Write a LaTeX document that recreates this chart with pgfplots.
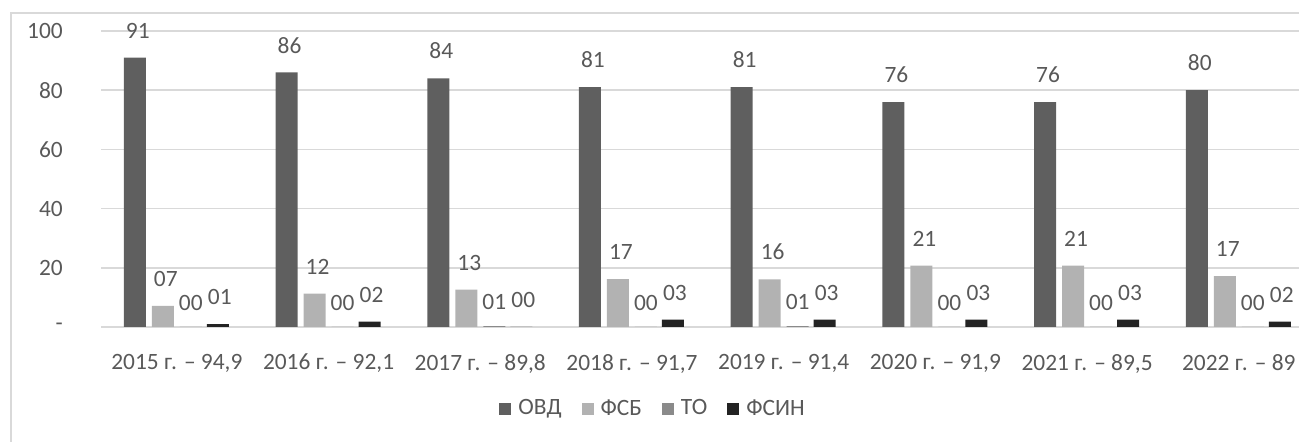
\documentclass[border=0pt]{standalone}
\usepackage{pgfplots}
\pgfplotsset{compat=1.18}
\usepackage{fontspec}
\setmainfont{Carlito}
\definecolor{txt}{HTML}{595959}
\definecolor{grd}{HTML}{D9D9D9}
\definecolor{cA}{HTML}{5F5F5F}
\definecolor{cB}{HTML}{B2B2B2}
\definecolor{cC}{HTML}{8A8A8A}
\definecolor{cD}{HTML}{232323}
\begin{document}
\begin{tikzpicture}
\fontsize{11.7}{14}\selectfont
\useasboundingbox (0,0) rectangle (649.5pt,221pt);
\draw[grd, line width=0.8pt] (5.5pt,-5pt) -- (5.5pt,214.5pt) -- (660pt,214.5pt);
\begin{axis}[
  at={(50.5pt,57.5pt)}, anchor=south west,
  scale only axis, width=599pt, height=148pt,
  xmin=-0.5, xmax=7.397, ymin=0, ymax=100,
  clip=false,
  axis line style={draw=none},
  major tick style={draw=none},
  ymajorgrids, grid style={grd, line width=0.75pt},
  ytick={0,20,40,60,80,100},
  yticklabels={{-\hspace{5pt}},20,40,60,80,100},
  yticklabel style={text=txt, font=\fontsize{11.7}{14}\selectfont, xshift=-15pt},
  xtick={0,...,7},
  xticklabels={{2015 г. – 94,9},{2016 г. – 92,1},{2017 г. – 89,8},{2018 г. – 91,7},{2019 г. – 91,4},{2020 г. – 91,9},{2021 г. – 89,5},{2022 г. – 89}},
  xticklabel style={text=txt, font=\fontsize{11.7}{14}\selectfont, yshift=-9.5pt},
  bar width=11pt,
  point meta=explicit symbolic,
  nodes near coords,
  every node near coord/.append style={text=txt, font=\fontsize{11.7}{14}\selectfont, anchor=south, yshift=5.5pt},
  legend columns=4,
  legend style={draw=none, at={(0.4616,-0.277)}, anchor=center, text=txt, font=\fontsize{11.7}{14}\selectfont,
    /tikz/every even column/.append style={column sep=8pt},
    /tikz/every odd column/.append style={column sep=1.5pt}},
  legend image code/.code={\fill[#1] (0pt,-3pt) rectangle (6pt,3pt);},
]
\addplot[ybar, bar shift=-21pt, fill=cA, draw=none, every node near coord/.append style={xshift=-19.5pt}] coordinates {
 (0,91) [91] (1,86) [86] (2,84) [84] (3,81) [81] (4,81) [81] (5,76) [76] (6,76) [76] (7,80) [80]};
\addlegendentry{ОВД}
\addplot[ybar, bar shift=-7pt, fill=cB, draw=none, every node near coord/.append style={xshift=-5.5pt}] coordinates {
 (0,7.1) [07] (1,11.3) [12] (2,12.6) [13] (3,16.2) [17] (4,16.1) [16] (5,20.7) [21] (6,20.7) [21] (7,17.2) [17]};
\addlegendentry{ФСБ}
\addplot[ybar, bar shift=7pt, fill=cC, draw=none, every node near coord/.append style={xshift=7pt, yshift=-1.5pt}] coordinates {
 (0,0) [00] (1,0) [00] (2,0.3) [01] (3,0) [00] (4,0.3) [01] (5,0) [00] (6,0) [00] (7,0) [00]};
\addlegendentry{ТО}
\addplot[ybar, bar shift=20.5pt, fill=cD, draw=none, every node near coord/.append style={xshift=21.5pt}] coordinates {
 (0,1) [01] (1,1.8) [02] (2,0) [00] (3,2.5) [03] (4,2.5) [03] (5,2.5) [03] (6,2.5) [03] (7,1.8) [02]};
\addlegendentry{ФСИН}
\end{axis}
\end{tikzpicture}
\end{document}
